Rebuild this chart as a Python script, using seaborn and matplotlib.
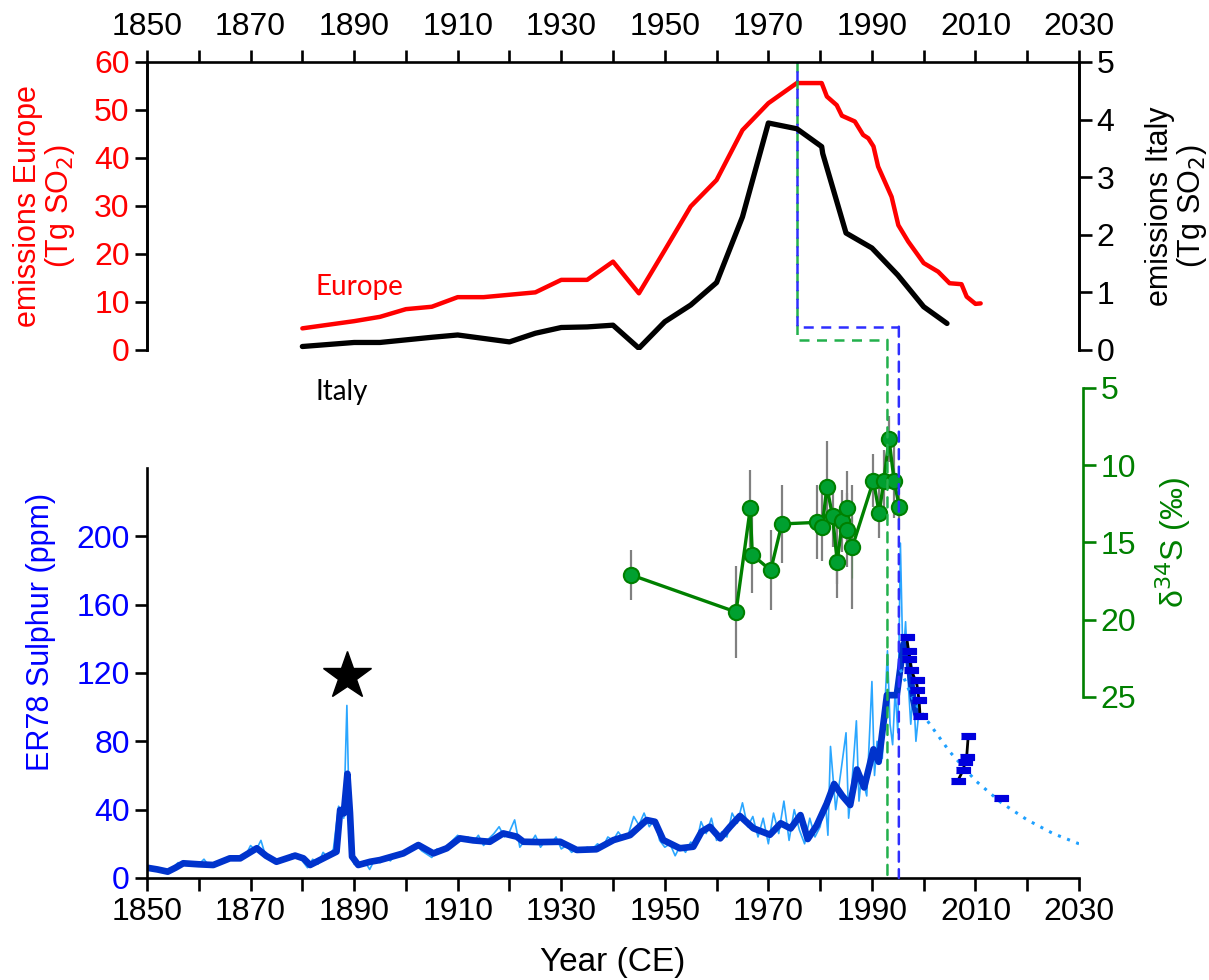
import numpy as np
import pandas as pd
import seaborn as sns
import matplotlib.pyplot as plt
from matplotlib.patches import ConnectionPatch

# SO2 emissions (Tg SO2)
eu_year = [1880, 1890, 1895, 1900, 1905, 1910, 1915, 1920, 1925, 1930, 1935, 1940, 1945, 1950, 1955,
           1960, 1965, 1970, 1975.5, 1980.3, 1981.3, 1983.2, 1984.2, 1986.7, 1988.3, 1989.3, 1990.3,
           1991.2, 1993.8, 1995.1, 1997, 2000, 2002.8, 2005, 2007.3, 2008.3, 2010, 2011]
eu_val = [4.5, 6.0, 6.9, 8.5, 9.0, 11.0, 11.0, 11.5, 12.0, 14.6, 14.6, 18.4, 11.8, 20.8, 29.9,
          35.4, 45.8, 51.4, 55.6, 55.6, 52.8, 51.0, 48.8, 47.6, 44.8, 44.1, 42.4,
          38.2, 31.9, 26.0, 22.6, 18.1, 16.3, 13.9, 13.7, 11.1, 9.6, 9.7]

it_year = [1880, 1890, 1895, 1905, 1910, 1920, 1925, 1930, 1935, 1940, 1945, 1950, 1955, 1960,
           1965, 1970, 1975.5, 1980.3, 1980.5, 1985, 1990, 1995, 2000, 2004.5]
it_val = [0.06, 0.13, 0.13, 0.22, 0.26, 0.14, 0.29, 0.39, 0.40, 0.43, 0.03, 0.49, 0.78, 1.17,
          2.31, 3.94, 3.84, 3.53, 3.41, 2.03, 1.77, 1.30, 0.75, 0.46]

# ER78 sulphur (ppm), raw record
raw_year = [1850, 1851, 1852, 1853, 1854, 1855, 1856, 1857, 1858, 1859, 1860, 1861, 1862, 1863,
            1864, 1865, 1866, 1867, 1868, 1869, 1870, 1871, 1872, 1873, 1874, 1875, 1876, 1877,
            1878, 1879, 1880, 1881, 1882, 1883, 1884, 1885, 1886, 1887, 1888, 1888.6, 1889,
            1889.5, 1890, 1891, 1892, 1893, 1894, 1895, 1896, 1897, 1898, 1899, 1900, 1901, 1902,
            1903, 1904, 1905, 1906, 1907, 1908, 1909, 1910, 1911, 1912, 1913, 1914, 1915, 1916,
            1917, 1918, 1919, 1920, 1921, 1922, 1923, 1924, 1925, 1926, 1927, 1928, 1929, 1930,
            1931, 1932, 1933, 1934, 1935, 1936, 1937, 1938, 1939, 1940, 1941, 1942, 1943, 1944,
            1945, 1946, 1947, 1948, 1949, 1950, 1951, 1952, 1953, 1954, 1955, 1956, 1957, 1958,
            1959, 1960, 1961, 1962, 1963, 1964, 1965, 1966, 1967, 1968, 1969, 1970, 1971, 1972,
            1973, 1974, 1975, 1976, 1977, 1978, 1979, 1980, 1981, 1981.5, 1982, 1983, 1984, 1985,
            1985.5, 1986, 1987, 1987.5, 1988, 1989, 1990, 1990.5, 1991, 1992, 1992.5, 1993,
            1993.5, 1994, 1994.5, 1995, 1995.5, 1996, 1996.5, 1997, 1997.5, 1998, 1998.5, 1999]
raw_val = [7, 5, 6, 4, 3, 6, 9, 8, 9, 7, 8, 11, 7, 7,
           9, 10, 12, 11, 12, 13, 19, 16, 22, 12, 11, 9, 10, 12,
           14, 13, 10, 6, 11, 8, 15, 12, 17, 42, 35, 101, 45,
           12, 8, 7, 10, 5, 11, 9, 12, 10, 14, 13, 16, 18, 20,
           16, 14, 12, 17, 16, 19, 22, 25, 22, 24, 21, 25, 19, 23,
           26, 30, 24, 27, 34, 18, 22, 20, 25, 18, 22, 20, 24, 17,
           19, 15, 17, 16, 18, 17, 20, 18, 24, 22, 27, 23, 26, 36,
           31, 38, 30, 34, 22, 18, 20, 13, 19, 15, 21, 19, 33, 26,
           35, 22, 27, 24, 38, 32, 44, 30, 36, 24, 35, 20, 38, 26,
           45, 22, 40, 28, 20, 35, 24, 30, 45, 25, 77, 40, 62, 85,
           35, 50, 92, 45, 60, 48, 115, 60, 80, 70, 100, 133,
           90, 78, 110, 85, 196, 125, 150, 115, 90, 110, 80, 95]

# ER78 sulphur, smoothed
sm_year = [1850, 1852, 1854, 1855.5, 1857, 1860, 1862.8, 1866, 1868, 1871.2, 1873, 1875, 1878.6,
           1880.2, 1881.5, 1884.7, 1886.6, 1887.3, 1888.0, 1888.7, 1889.2, 1889.6, 1890.8, 1893.1,
           1895, 1899.5, 1902.4, 1905.3, 1907.9, 1910.4, 1913, 1916.2, 1918.8, 1921.4, 1922.7,
           1926, 1929.8, 1933, 1936.8, 1940.1, 1943.3, 1946.5, 1948.1, 1949.7, 1952.9, 1955.5,
           1957.1, 1958.7, 1960.7, 1962.6, 1964.5, 1967.1, 1970.3, 1972.4, 1974.3, 1976.2, 1977.6,
           1979.3, 1981.3, 1982.7, 1984.3, 1985.8, 1987.1, 1988.5, 1990.3, 1991.3, 1992.9, 1994.8,
           1996.1, 1997.0, 1998.0, 1998.6]
sm_val = [6, 5, 3.7, 6, 8.6, 8, 7.6, 11.5, 11.5, 17.4, 13, 9.5, 13.1,
          11.5, 7.6, 12.5, 15.4, 39.8, 37.8, 61, 38, 12.5, 7.6, 9.5,
          10.5, 14.4, 19.3, 14.4, 17.4, 23.2, 22, 21.2, 26.1, 24.2, 21.2,
          21, 21.2, 16.4, 16.8, 22.2, 25.1, 33.9, 32.9, 22.2, 17.4, 18.3,
          27.1, 30, 23.2, 30, 36.3, 29.1, 25.3, 32, 29, 36.8, 22.8,
          30.5, 43.7, 55, 48, 42.7, 63.5, 53, 75.3, 68, 107, 107,
          137, 129, 104, 96]

# snow pit samples
pit_year = [1996.7, 1997.2, 1997.2, 1997.6, 1998.7, 1998.7, 1999.1, 1999.3,
            2006.6, 2007.6, 2008.0, 2008.3, 2008.6, 2015.0]
pit_val = [141, 133, 128, 122, 116, 110, 104, 95,
           57, 63, 68, 71, 83, 47]

# decay trend
fit_year = [1995.5, 1998, 2000, 2005, 2010, 2015, 2020, 2025, 2030]
fit_val = [122, 104, 95, 74, 57, 44, 34, 26, 20]

# d34S (permil)
d34_year = [1943.5, 1963.75, 1966.5, 1966.9, 1970.45, 1972.6, 1979.3, 1980.4, 1981.3, 1982.4,
            1983.3, 1983.3, 1984.3, 1985.2, 1985.25, 1986.2, 1986.2, 1990.3, 1991.4, 1992.3,
            1993.3, 1994.3, 1994.3, 1995.3]
d34_val = [17.1, 19.5, 12.8, 15.8, 16.8, 13.8, 13.7, 14.0, 11.4, 13.3,
           15.7, 16.8, 13.6, 12.8, 14.2, 17.3, 13.3, 11.0, 13.1, 11.0,
           8.3, 10.2, 11.9, 12.7]
d34_err = [1.6, 3.0, 2.5, 2.5, 2.6, 2.5, 2.4, 2.2, 3.0, 2.0,
           2.0, 1.8, 2.0, 2.4, 2.4, 2.0, 2.0, 1.7, 1.6, 2.0,
           1.5, 1.5, 1.5, 1.5]

sns.set_style("ticks")
plt.rcParams['font.family'] = ['Liberation Sans', 'DejaVu Sans']
plt.rcParams['axes.linewidth'] = 1.9
plt.rcParams['text.color'] = 'black'
plt.rcParams['axes.labelcolor'] = 'black'
plt.rcParams['xtick.color'] = 'black'
plt.rcParams['ytick.color'] = 'black'
plt.rcParams['axes.edgecolor'] = 'black'
FS = 23

fig = plt.figure(figsize=(12.09, 9.8), dpi=100)
ax_top = fig.add_axes([0.1216, 0.6429, 0.7709, 0.2939])
ax_it = ax_top.twinx()
ax_bot = fig.add_axes([0.1216, 0.1041, 0.7709, 0.4184])
ax_d = fig.add_axes([0.1216, 0.2888, 0.7709, 0.3153])
ax_d.patch.set_alpha(0)

eu = pd.DataFrame({"year": eu_year, "emis": eu_val})
it = pd.DataFrame({"year": it_year, "emis": it_val})
raw = pd.DataFrame({"year": raw_year, "S": raw_val})
sm = pd.DataFrame({"year": sm_year, "S": sm_val})
pit = pd.DataFrame({"year": pit_year, "S": pit_val})
fit = pd.DataFrame({"year": fit_year, "S": fit_val})
d34 = pd.DataFrame({"year": d34_year, "d": d34_val, "err": d34_err})

# top panel
sns.lineplot(data=eu, x="year", y="emis", ax=ax_top, color="#FF0000", lw=3.2, sort=False)
sns.lineplot(data=it, x="year", y="emis", ax=ax_it, color="black", lw=3.8, sort=False)
for a in (ax_top, ax_it):
    a.set_xlim(1850, 2030)
    a.spines['bottom'].set_visible(False)
    a.set_xlabel("")
ax_top.set_ylim(0, 60)
ax_it.set_ylim(0, 5)
ax_top.xaxis.tick_top()
ax_top.set_xticks(range(1850, 2031, 20))
ax_top.set_xticks(range(1860, 2031, 20), minor=True)
ax_top.set_yticks(range(0, 61, 10))
ax_it.set_yticks(range(0, 6))
ax_top.tick_params(axis='x', which='both', top=True, bottom=False, direction='out', length=9,
                   width=1.9, labelsize=FS, pad=5)
ax_top.tick_params(axis='y', direction='out', length=9, width=1.9, labelsize=FS,
                   labelcolor="#FF0000", color='black')
ax_it.tick_params(axis='y', direction='out', length=9, width=1.9, labelsize=FS)
ax_it.spines['top'].set_visible(False)
ax_top.set_ylabel("emissions Europe\n(Tg SO$_2$)", color="#FF0000", fontsize=FS - 1, labelpad=12,
                  linespacing=1.0)
ax_it.set_ylabel("emissions Italy\n(Tg SO$_2$)", color="black", fontsize=FS - 1, labelpad=22,
                 linespacing=1.0)
ax_top.text(1882.5, 11.5, "Europe", color="#FF0000", fontsize=20, family="Lato")
ax_top.text(1882.5, -10.5, "Italy", color="black", fontsize=20, family="Lato")

# lag markers
ax_top.plot([1975.5, 1975.5, 1993.0], [60, 2.1, 2.1], ls=(0, (4, 3)), color="#22B04C", lw=1.8)
ax_top.plot([1975.5, 1975.5, 1995.2], [60, 4.85, 4.85], ls=(3.5, (4, 3)), color="#2E2EFF", lw=1.8)
for yr, col in [(1993.0, "#22B04C"), (1995.2, "#2E2EFF")]:
    y0 = 2.1 if yr < 1994 else 4.85
    con = ConnectionPatch(xyA=(yr, y0), coordsA=ax_top.transData, xyB=(yr, 0),
                          coordsB=ax_bot.transData, color=col, lw=1.8, ls=(0, (4, 3)))
    fig.add_artist(con)

# bottom panel
sns.lineplot(data=raw, x="year", y="S", ax=ax_bot, color="#2AA6FF", lw=1.2, sort=False)
sns.lineplot(data=sm, x="year", y="S", ax=ax_bot, color="#0033CC", lw=4.8, sort=False)
sns.lineplot(data=fit, x="year", y="S", ax=ax_bot, color="#1EA0FF", lw=2.2, ls=(0, (1, 2.2)),
             sort=False)
sns.lineplot(data=pit.iloc[:8], x="year", y="S", ax=ax_bot, color="black", lw=2, sort=False)
sns.lineplot(data=pit.iloc[8:13], x="year", y="S", ax=ax_bot, color="black", lw=2, sort=False)
rect = [(-1.6, -0.7), (1.6, -0.7), (1.6, 0.7), (-1.6, 0.7)]
sns.scatterplot(data=pit, x="year", y="S", ax=ax_bot, marker=rect, s=110, color="#0000DD",
                edgecolor="#0000DD", zorder=5)
ax_bot.plot([1888.6], [118], marker="*", ms=36, color="black", ls="none")
ax_bot.set_xlim(1850, 2030)
ax_bot.set_ylim(0, 240)
ax_bot.set_xticks(range(1850, 2031, 20))
ax_bot.set_xticks(range(1860, 2031, 20), minor=True)
ax_bot.set_yticks(range(0, 201, 40))
ax_bot.tick_params(axis='x', which='both', direction='out', length=9, width=1.9, labelsize=FS, pad=5)
ax_bot.tick_params(axis='y', direction='out', length=9, width=1.9, labelsize=FS,
                   labelcolor="#0000FF")
ax_bot.spines['top'].set_visible(False)
ax_bot.spines['right'].set_visible(False)
ax_bot.set_xlabel("Year (CE)", fontsize=FS + 1, labelpad=14)
ax_bot.set_ylabel("ER78 Sulphur (ppm)", color="#0000FF", fontsize=FS - 1)
ax_bot.yaxis.set_label_coords(-0.098, 0.6)

# d34S panel
ax_d.errorbar(d34_year, d34_val, yerr=d34_err, fmt="none", ecolor="#808080", elinewidth=1.6,
              zorder=1)
sns.lineplot(data=d34, x="year", y="d", ax=ax_d, color="#008000", lw=2.4, sort=False,
             marker="o", markersize=11, markerfacecolor="#00A030", markeredgecolor="#008000",
             markeredgewidth=1.5, zorder=3)
ax_d.set_xlim(1850, 2030)
ax_d.set_ylim(25, 5)
ax_d.set_yticks(range(5, 26, 5))
ax_d.yaxis.tick_right()
ax_d.yaxis.set_label_position("right")
for s in ("top", "left", "bottom"):
    ax_d.spines[s].set_visible(False)
ax_d.spines['right'].set_color("#008000")
ax_d.spines['right'].set_position(("outward", 3))
ax_d.set_xticks([])
ax_d.set_xlabel("")
ax_d.tick_params(axis='y', direction='out', length=9, width=1.9, labelsize=FS, colors="#008000")
ax_d.set_ylabel("δ$^{34}$S (‰)", color="#008000", fontsize=FS, labelpad=12)

fig.savefig("out.png", dpi=100)
